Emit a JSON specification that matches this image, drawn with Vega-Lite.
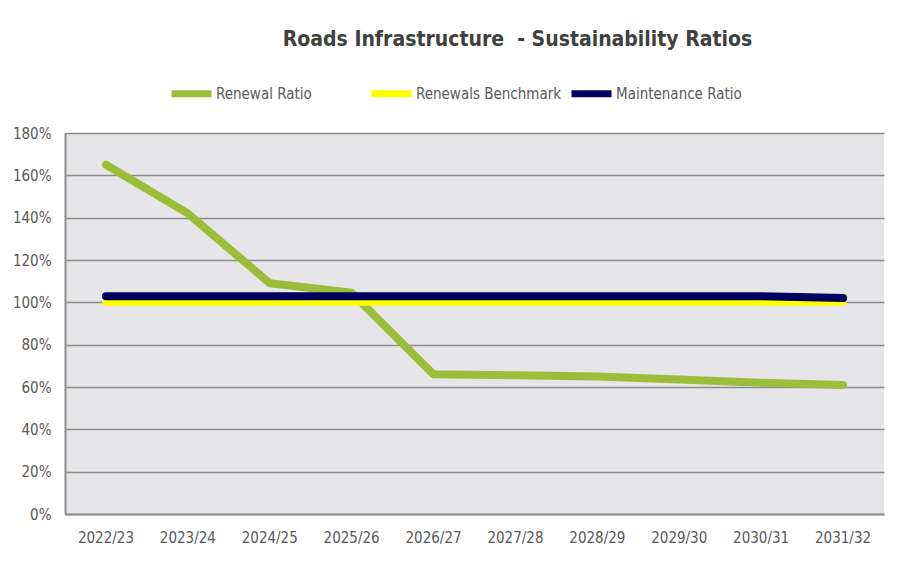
{
  "$schema": "https://vega.github.io/schema/vega-lite/v6.json",
  "autosize": {"type": "none"},
  "width": 819,
  "height": 381,
  "padding": {"left": 65, "top": 133, "right": 15, "bottom": 69},
  "background": "white",
  "title": {
    "text": "Roads Infrastructure \u00a0- Sustainability Ratios",
    "frame": "group",
    "anchor": "middle",
    "dx": 43,
    "offset": 20,
    "font": "DejaVu Sans Condensed, sans-serif",
    "fontSize": 21,
    "fontWeight": "bold",
    "color": "#404040"
  },
  "data": {
    "values": [
      {"year": "2022/23", "series": "Renewal Ratio", "value": 1.65},
      {"year": "2023/24", "series": "Renewal Ratio", "value": 1.42},
      {"year": "2024/25", "series": "Renewal Ratio", "value": 1.09},
      {"year": "2025/26", "series": "Renewal Ratio", "value": 1.045},
      {"year": "2026/27", "series": "Renewal Ratio", "value": 0.66},
      {"year": "2027/28", "series": "Renewal Ratio", "value": 0.655},
      {"year": "2028/29", "series": "Renewal Ratio", "value": 0.65},
      {"year": "2029/30", "series": "Renewal Ratio", "value": 0.635},
      {"year": "2030/31", "series": "Renewal Ratio", "value": 0.62},
      {"year": "2031/32", "series": "Renewal Ratio", "value": 0.61},
      {"year": "2022/23", "series": "Renewals Benchmark", "value": 1.0},
      {"year": "2023/24", "series": "Renewals Benchmark", "value": 1.0},
      {"year": "2024/25", "series": "Renewals Benchmark", "value": 1.0},
      {"year": "2025/26", "series": "Renewals Benchmark", "value": 1.0},
      {"year": "2026/27", "series": "Renewals Benchmark", "value": 1.0},
      {"year": "2027/28", "series": "Renewals Benchmark", "value": 1.0},
      {"year": "2028/29", "series": "Renewals Benchmark", "value": 1.0},
      {"year": "2029/30", "series": "Renewals Benchmark", "value": 1.0},
      {"year": "2030/31", "series": "Renewals Benchmark", "value": 1.0},
      {"year": "2031/32", "series": "Renewals Benchmark", "value": 1.0},
      {"year": "2022/23", "series": "Maintenance Ratio", "value": 1.029},
      {"year": "2023/24", "series": "Maintenance Ratio", "value": 1.029},
      {"year": "2024/25", "series": "Maintenance Ratio", "value": 1.029},
      {"year": "2025/26", "series": "Maintenance Ratio", "value": 1.029},
      {"year": "2026/27", "series": "Maintenance Ratio", "value": 1.029},
      {"year": "2027/28", "series": "Maintenance Ratio", "value": 1.029},
      {"year": "2028/29", "series": "Maintenance Ratio", "value": 1.029},
      {"year": "2029/30", "series": "Maintenance Ratio", "value": 1.029},
      {"year": "2030/31", "series": "Maintenance Ratio", "value": 1.029},
      {"year": "2031/32", "series": "Maintenance Ratio", "value": 1.02}
    ]
  },
  "encoding": {
    "x": {
      "field": "year",
      "type": "ordinal",
      "scale": {"type": "band", "paddingInner": 0, "paddingOuter": 0},
      "axis": {
        "title": null,
        "labelAngle": 0,
        "ticks": false,
        "labelPadding": 16,
        "labelFontSize": 15,
        "labelColor": "#595959",
        "labelFont": "DejaVu Sans Condensed, sans-serif",
        "domainColor": "#8C8C8C",
        "domainWidth": 2,
        "grid": false
      }
    },
    "y": {
      "field": "value",
      "type": "quantitative",
      "scale": {"domain": [0, 1.8], "nice": false},
      "axis": {
        "title": null,
        "values": [0, 0.2, 0.4, 0.6, 0.8, 1.0, 1.2, 1.4, 1.6, 1.8],
        "format": ".0%",
        "ticks": false,
        "labelPadding": 14,
        "labelFontSize": 15,
        "labelColor": "#595959",
        "labelFont": "DejaVu Sans Condensed, sans-serif",
        "domainColor": "#8C8C8C",
        "domainWidth": 2,
        "grid": true,
        "gridColor": "#8C8C8C",
        "gridWidth": 1.5,
        "gridOpacity": 1
      }
    },
    "color": {
      "field": "series",
      "type": "nominal",
      "scale": {
        "domain": ["Renewal Ratio", "Renewals Benchmark", "Maintenance Ratio"],
        "range": ["#9BBE3A", "#FFFF00", "#00005E"]
      },
      "legend": {
        "title": null,
        "orient": "none",
        "legendX": 103,
        "legendY": -63,
        "direction": "horizontal",
        "symbolType": "stroke",
        "symbolStrokeWidth": 7,
        "symbolSize": 1600,
        "labelFontSize": 15,
        "labelColor": "#595959",
        "labelFont": "DejaVu Sans Condensed, sans-serif",
        "labelOffset": 1,
        "gridAlign": "all",
        "columnPadding": -5,
        "labelLimit": 300
      }
    }
  },
  "layer": [
    {
      "transform": [{"filter": "datum.series === 'Renewal Ratio'"}],
      "mark": {"type": "line", "strokeWidth": 8, "strokeCap": "round", "strokeJoin": "round"}
    },
    {
      "transform": [{"filter": "datum.series === 'Renewals Benchmark'"}],
      "mark": {"type": "line", "strokeWidth": 7, "strokeCap": "round", "strokeJoin": "round"}
    },
    {
      "transform": [{"filter": "datum.series === 'Maintenance Ratio'"}],
      "mark": {"type": "line", "strokeWidth": 8, "strokeCap": "round", "strokeJoin": "round"}
    }
  ],
  "config": {
    "view": {"fill": "#E6E6E9", "stroke": null}
  }
}
